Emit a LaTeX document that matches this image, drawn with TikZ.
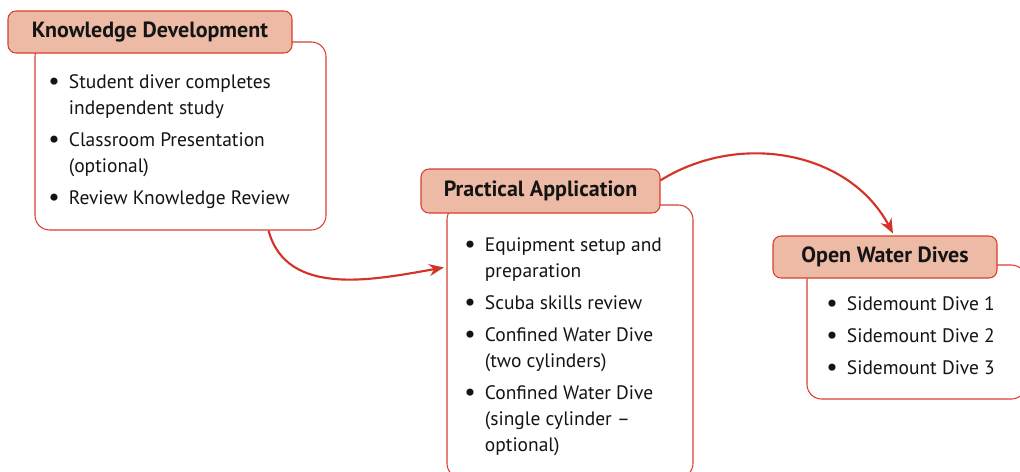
\documentclass[tikz,border=0pt]{standalone}
\usepackage{fontspec}
\setmainfont{PT Sans}
\usepackage{xcolor}
\usepackage{tikz}
\usetikzlibrary{calc,arrows.meta}
\definecolor{PadiRed}{RGB}{215,62,52}
\definecolor{PadiArrow}{RGB}{210,52,40}
\definecolor{PadiSalmon}{RGB}{237,186,165}
\definecolor{PadiInk}{RGB}{20,20,20}
\newcommand{\px}{0.75pt}
\newcommand{\bodyfont}{\fontsize{14.6}{19.5}\selectfont}
\newcommand{\headfont}{\fontsize{16.5}{19.5}\selectfont\bfseries}
\newcommand{\lbul}{\raisebox{-1.2pt}{\fontsize{19}{19}\selectfont\textbullet}}

\begin{document}
\begin{tikzpicture}[x=0.75pt,y=-0.75pt,
  headbox/.style={draw=PadiRed,line width=0.8pt,fill=PadiSalmon,rounded corners=6pt,
    inner sep=0pt,font=\headfont,text=PadiInk},
  bodybox/.style={draw=PadiRed,line width=0.8pt,fill=white,rounded corners=11pt,inner sep=0pt},
  listtext/.style={anchor=base west,inner sep=0pt,font=\bodyfont,text=PadiInk},
  flow/.style={draw=PadiArrow,line width=1.6pt,-{Stealth[length=11pt,width=9pt]}}]
  \clip (0,0) rectangle (1020,471);

  % Knowledge Development
  \node[bodybox,minimum width=291*\px,minimum height=188*\px] (kdbody) at (180.5,136) {};
  \node[headbox,minimum width=284*\px,minimum height=42*\px] (kdhead) at (150,32) {Knowledge Development};
  \node[listtext] (kdlist) at (48,88) {\begin{tabular}[t]{@{}p{15.5pt}@{}l@{}}
    \lbul & Student diver completes\\ & independent study\\[4.5pt]
    \lbul & Classroom Presentation\\ & (optional)\\[4.5pt]
    \lbul & Review Knowledge Review
  \end{tabular}};

  % Practical Application
  \node[bodybox,minimum width=246*\px,minimum height=273*\px] (pabody) at (570,341.5) {};
  \node[headbox,minimum width=239*\px,minimum height=44*\px] (pahead) at (540.5,191) {Practical Application};
  \node[listtext] (palist) at (464,251) {\begin{tabular}[t]{@{}p{15.5pt}@{}l@{}}
    \lbul & Equipment setup and\\ & preparation\\[4.5pt]
    \lbul & Scuba skills review\\[4.5pt]
    \lbul & Confined Water Dive\\ & (two cylinders)\\[4.5pt]
    \lbul & Confined Water Dive\\ & (single cylinder --\\ & optional)
  \end{tabular}};

  % Open Water Dives
  \node[bodybox,minimum width=219*\px,minimum height=134*\px] (owbody) at (916.5,332) {};
  \node[headbox,minimum width=224*\px,minimum height=42*\px] (owhead) at (885,257) {Open Water Dives};
  \node[listtext] (owlist) at (826,310) {\begin{tabular}[t]{@{}p{15.5pt}@{}l@{}}
    \lbul & Sidemount Dive 1\\[4.5pt]
    \lbul & Sidemount Dive 2\\[4.5pt]
    \lbul & Sidemount Dive 3
  \end{tabular}};

  % Arrows
  \draw[flow] ([xshift=-58*\px]kdbody.south east) to[out=-75,in=190]
    ([yshift=-47.25pt,xshift=-2pt]pabody.north west);
  \draw[flow] ([yshift=8pt]pahead.east) to[out=32,in=118]
    ([xshift=6pt,yshift=1.5pt]owhead.north);
\end{tikzpicture}
\end{document}
